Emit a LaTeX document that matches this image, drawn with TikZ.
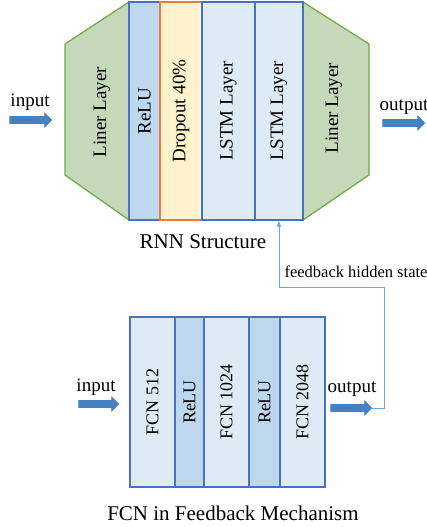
\documentclass[tikz,border=0pt]{standalone}
\usepackage{fontspec}
\setmainfont{Liberation Serif}
\usetikzlibrary{shapes.arrows,arrows.meta}
\definecolor{lingreen}{RGB}{197,216,186}
\definecolor{linedge}{RGB}{112,173,71}
\definecolor{relublue}{RGB}{189,215,238}
\definecolor{lstmblue}{RGB}{222,235,247}
\definecolor{edgeblue}{RGB}{68,114,196}
\definecolor{dropfill}{RGB}{255,242,204}
\definecolor{dropedge}{RGB}{237,125,49}
\definecolor{arrowblue}{RGB}{70,130,195}
\definecolor{fbblue}{RGB}{110,165,218}

\begin{document}
\begin{tikzpicture}[x=1pt,y=-1pt,line join=miter]
	\tikzstyle{layer}=[draw=edgeblue,line width=1.3pt,rotate=90,inner sep=0pt,font=\fontsize{19}{19}\selectfont];
	\tikzstyle{relu}=[layer,fill=relublue];
	\tikzstyle{lstm}=[layer,fill=lstmblue];
	\tikzstyle{drop}=[layer,draw=dropedge,fill=dropfill];
	\tikzstyle{liner}=[draw=linedge,line width=1.3pt,fill=lingreen];
	\tikzstyle{fcn}=[lstm,font=\fontsize{18}{18}\selectfont];
	\tikzstyle{fcnrelu}=[relu,font=\fontsize{18}{18}\selectfont];
	\tikzstyle{flow}=[single arrow,draw=arrowblue,fill=arrowblue,line width=0.6pt,inner sep=3.2pt,single arrow head extend=3.6pt,single arrow tip angle=90];
	\tikzstyle{word}=[inner sep=0pt,font=\fontsize{18}{18}\selectfont];
	\tikzstyle{fb}=[draw=fbblue,line width=0.9pt];

	\useasboundingbox (0,0) rectangle (427,527);

	% RNN structure
	\draw[liner] (65,44) -- (129,2) -- (129,220) -- (65,175) -- cycle;
	\draw[liner] (303,2) -- (369,44) -- (369,175) -- (303,220) -- cycle;
	\node[rotate=90,inner sep=0pt,font=\fontsize{19}{19}\selectfont] (linl) at (102,112) {Liner Layer};
	\node[rotate=90,inner sep=0pt,font=\fontsize{19}{19}\selectfont] (linr) at (334,108) {Liner Layer};
	\node[relu,minimum width=218,minimum height=31] (relua) at (144.5,111) {ReLU};
	\node[drop,minimum width=218,minimum height=42] (drop) at (181,111) {Dropout 40\%};
	\node[lstm,minimum width=218,minimum height=53] (lstma) at (228.5,111) {LSTM Layer};
	\node[lstm,minimum width=218,minimum height=48] (lstmb) at (279,111) {LSTM Layer};

	\node[flow,minimum height=42] (rin) at (29,120) {};
	\node[flow,minimum height=42] (rout) at (402,123) {};
	\node[word,font=\fontsize{19}{19}\selectfont] (rinl) at (30,102) {input};
	\node[word,font=\fontsize{19}{19}\selectfont] (routl) at (404,107) {output};
	\node[word,font=\fontsize{21}{21}\selectfont] (rnn) at (203,242) {RNN Structure};

	% FCN in feedback
	\node[fcn,minimum width=170,minimum height=45] (fcna) at (152.5,402) {FCN 512};
	\node[fcnrelu,minimum width=170,minimum height=29] (relub) at (189.5,402) {ReLU};
	\node[fcn,minimum width=170,minimum height=45] (fcnb) at (226.5,402) {FCN 1024};
	\node[fcnrelu,minimum width=170,minimum height=31] (reluc) at (264.5,402) {ReLU};
	\node[fcn,minimum width=170,minimum height=45] (fcnc) at (302.5,402) {FCN 2048};

	\node[flow,minimum height=40] (fin) at (97,404) {};
	\node[flow,minimum height=41] (fout) at (349.5,408) {};
	\node[word,font=\fontsize{19}{19}\selectfont] (finl) at (96,387) {input};
	\node[word,font=\fontsize{19}{19}\selectfont] (foutl) at (352,389) {output};
	\node[word,font=\fontsize{21}{21}\selectfont] (fcnt) at (233,513) {FCN in Feedback Mechanism};

	% feedback hidden state
	\coordinate (fbturn) at (384,287);
	\draw[fb,-{Latex[length=6pt,width=5pt]}] (fout.tip) -| (fbturn) -| (lstmb.west);
	\node[word,font=\fontsize{16.5}{16.5}\selectfont] (fbl) at (356,272) {feedback hidden state};
\end{tikzpicture}
\end{document}
